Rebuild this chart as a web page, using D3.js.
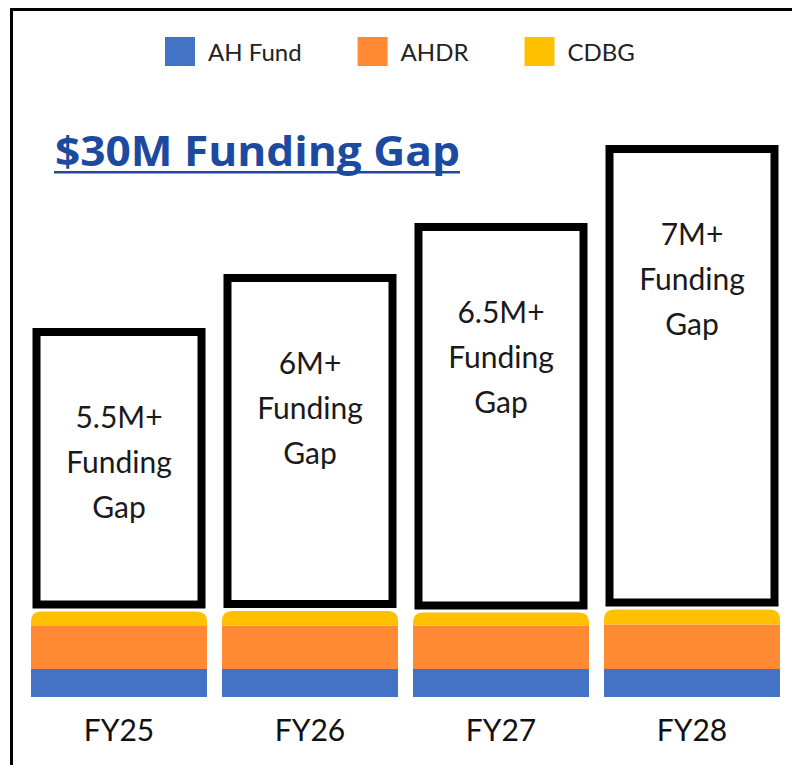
<!DOCTYPE html>
<html>
<head>
<meta charset="utf-8">
<script src="https://cdn.jsdelivr.net/npm/d3@7"></script>
<style>
  html, body { margin: 0; padding: 0; background: #fff; }
  svg { display: block; }
</style>
</head>
<body>
<div id="chart"></div>
<script>
// data (heights in the chart's own units)
var years = ["FY25", "FY26", "FY27", "FY28"];
var seriesNames = ["AH Fund", "AHDR", "CDBG"];
var ahFund = [0.56, 0.56, 0.56, 0.56];
var ahdr = [0.86, 0.87, 0.87, 0.89];
var cdbg = [0.29, 0.29, 0.26, 0.30];
var gapValues = [5.67, 6.74, 7.79, 9.29];
var gapLabels = ["5.5M+", "6M+", "6.5M+", "7M+"];
var colors = ["#4472C4", "#FF8A33", "#FFC000"];

var width = 792, height = 765;

var svg = d3.select("#chart").append("svg")
  .attr("width", width)
  .attr("height", height);

// frame (top and left edges visible)
svg.append("line").attr("x1", 11.5).attr("x2", width).attr("y1", 9.5).attr("y2", 9.5)
  .attr("stroke", "#000").attr("stroke-width", 3);
svg.append("line").attr("x1", 11.5).attr("x2", 11.5).attr("y1", 8).attr("y2", height)
  .attr("stroke", "#000").attr("stroke-width", 3);

var x = d3.scaleBand().domain(years).range([31, 780]).paddingInner(0.0785).paddingOuter(0);
var y = d3.scaleLinear().domain([0, 12]).range([697, 97]);

var rows = years.map(function(yr, i) {
  return { year: yr, "AH Fund": ahFund[i], "AHDR": ahdr[i], "CDBG": cdbg[i],
           gap: gapValues[i], label: gapLabels[i] };
});

var stack = d3.stack().keys(seriesNames)(rows);

// stacked funding segments
stack.forEach(function(layer, li) {
  var top = li === stack.length - 1;
  svg.append("g").selectAll("path")
    .data(layer)
    .enter()
    .append("path")
    .attr("fill", colors[li])
    .attr("d", function(d) {
      var x0 = x(d.data.year), x1 = x0 + x.bandwidth();
      var y0 = y(d[0]), y1 = y(d[1]);
      if (!top) return "M" + x0 + "," + y0 + "H" + x1 + "V" + y1 + "H" + x0 + "Z";
      var r = 10;
      return "M" + x0 + "," + y0 + "V" + (y1 + r) +
        "Q" + x0 + "," + y1 + " " + (x0 + r) + "," + y1 +
        "H" + (x1 - r) + "Q" + x1 + "," + y1 + " " + x1 + "," + (y1 + r) +
        "V" + y0 + "Z";
    });
});

// funding gap boxes
var sw = 8;
var gapG = svg.append("g").selectAll("g")
  .data(rows)
  .enter()
  .append("g");

gapG.append("rect")
  .attr("x", function(d) { return x(d.year) + 1.5 + sw / 2; })
  .attr("width", x.bandwidth() - 3 - sw)
  .attr("y", function(d) {
    var base = d["AH Fund"] + d["AHDR"] + d["CDBG"];
    return y(base + d.gap) + sw / 2;
  })
  .attr("height", function(d) {
    var base = d["AH Fund"] + d["AHDR"] + d["CDBG"];
    return (y(base) - 3) - y(base + d.gap) - sw;
  })
  .attr("fill", "#fff")
  .attr("stroke", "#000")
  .attr("stroke-width", sw);

gapG.each(function(d) {
  var base = d["AH Fund"] + d["AHDR"] + d["CDBG"];
  var top = y(base + d.gap);
  var cx = x(d.year) + x.bandwidth() / 2;
  var lines = [d.label, "Funding", "Gap"];
  d3.select(this).selectAll("text")
    .data(lines)
    .enter()
    .append("text")
    .attr("x", cx)
    .attr("y", function(t, i) { return top + 88 + i * 45; })
    .attr("text-anchor", "middle")
    .attr("dominant-baseline", "central")
    .attr("font-family", "Lato, sans-serif")
    .attr("font-size", 30)
    .attr("fill", "#1a1a1a")
    .text(function(t) { return t; });
});

// x axis labels
var xAxis = d3.axisBottom(x).tickSize(0).tickPadding(0);
var ax = svg.append("g").attr("transform", "translate(0,718)").call(xAxis);
ax.select(".domain").remove();
ax.selectAll("text")
  .attr("font-family", "Lato, sans-serif")
  .attr("font-size", 30)
  .attr("fill", "#111")
  .attr("dy", "0")
  .attr("y", 23);

// title
svg.append("text")
  .attr("x", 55)
  .attr("y", 166)
  .attr("font-family", "'Open Sans', sans-serif")
  .attr("font-weight", 700)
  .attr("font-size", 42)
  .attr("textLength", 405)
  .attr("lengthAdjust", "spacingAndGlyphs")
  .attr("fill", "#1B4AA0")
  .text("$30M Funding Gap");
svg.append("rect")
  .attr("x", 54).attr("y", 171)
  .attr("width", 406).attr("height", 2.5)
  .attr("fill", "#1B4AA0");

// legend
var legend = svg.append("g");
var lx = 165;
seriesNames.forEach(function(name, i) {
  legend.append("rect")
    .attr("x", lx).attr("y", 37)
    .attr("width", 30).attr("height", 29)
    .attr("fill", colors[i]);
  var t = legend.append("text")
    .attr("x", lx + 43).attr("y", 51)
    .attr("dominant-baseline", "central")
    .attr("font-family", "Lato, sans-serif")
    .attr("font-size", 24)
    .attr("fill", "#222")
    .text(name);
  lx = lx + 43 + t.node().getComputedTextLength() + 56;
});
</script>
</body>
</html>
